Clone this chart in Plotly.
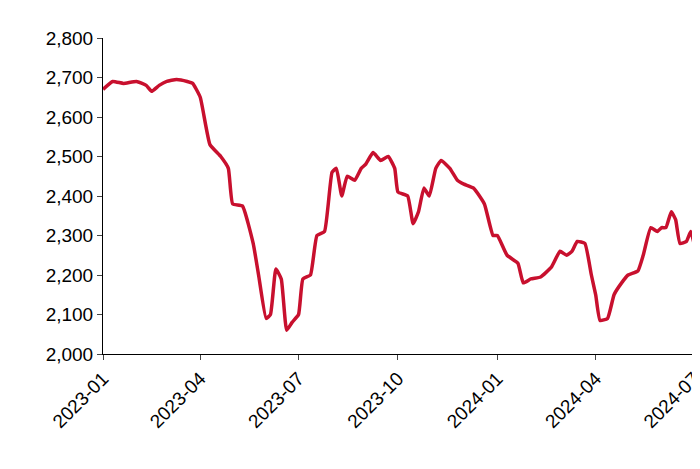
import plotly.graph_objects as go

dates = ["2023-01-01","2023-01-10","2023-01-20","2023-02-01","2023-02-10","2023-02-15","2023-02-22","2023-03-01","2023-03-10","2023-03-20","2023-03-25",
"2023-04-01","2023-04-10","2023-04-20","2023-04-27","2023-05-01","2023-05-10","2023-05-20","2023-05-25","2023-06-01","2023-06-05","2023-06-10","2023-06-15","2023-06-20","2023-06-25",
"2023-07-01","2023-07-05","2023-07-12","2023-07-18","2023-07-25","2023-08-01","2023-08-05","2023-08-10","2023-08-15","2023-08-22","2023-08-28",
"2023-09-01","2023-09-08","2023-09-15","2023-09-22","2023-09-28","2023-10-01","2023-10-10","2023-10-15","2023-10-20","2023-10-25","2023-10-30",
"2023-11-05","2023-11-10","2023-11-18","2023-11-25","2023-12-01","2023-12-10","2023-12-20","2023-12-28",
"2024-01-01","2024-01-10","2024-01-20","2024-01-25","2024-02-01","2024-02-10","2024-02-20","2024-02-28","2024-03-05","2024-03-10","2024-03-15","2024-03-22","2024-03-28",
"2024-04-01","2024-04-05","2024-04-12","2024-04-18","2024-04-25","2024-05-01","2024-05-10","2024-05-15","2024-05-22","2024-05-28",
"2024-06-01","2024-06-05","2024-06-10","2024-06-14","2024-06-18","2024-06-24","2024-06-28","2024-07-01"]
values = [2670,2690,2685,2690,2680,2665,2680,2690,2695,2690,2685,
2650,2530,2500,2470,2380,2375,2280,2200,2090,2100,2215,2190,2060,2080,
2100,2190,2200,2300,2310,2460,2470,2400,2450,2440,2470,
2480,2510,2490,2500,2470,2410,2400,2330,2360,2420,2400,
2470,2490,2470,2440,2430,2420,2380,2300,
2300,2250,2230,2180,2190,2195,2220,2260,2250,2260,2285,2280,2200,
2150,2085,2090,2150,2180,2200,2210,2250,2320,2310,
2320,2320,2360,2340,2280,2285,2310,2280]
tickvals = ["2023-01-01","2023-04-01","2023-07-01","2023-10-01","2024-01-01","2024-04-01","2024-07-01"]
ticktext = ["2023-01","2023-04","2023-07","2023-10","2024-01","2024-04","2024-07"]

fig = go.Figure(go.Scatter(x=dates, y=values, mode="lines",
    line=dict(color="#C8102E", width=3.5, shape="spline", smoothing=0.4)))
fig.update_layout(width=700, height=469, margin=dict(l=95, r=14, t=30, b=123, autoexpand=False),
    plot_bgcolor="white", paper_bgcolor="white", showlegend=False,
    font=dict(family="Liberation Sans, Arial", size=19, color="black"))
fig.update_xaxes(range=["2023-01-01","2024-07-01"], tickvals=tickvals, ticktext=ticktext,
    tickangle=-45, showline=True, linecolor="black", linewidth=1, ticks="outside",
    ticklen=5, showgrid=False, zeroline=False, automargin=False)
fig.update_yaxes(range=[2000,2800], dtick=100, tickformat=",", showline=True,
    linecolor="black", linewidth=1, ticks="outside", ticklen=5, showgrid=False, zeroline=False,
    automargin=False)
fig.write_html("out.html")
